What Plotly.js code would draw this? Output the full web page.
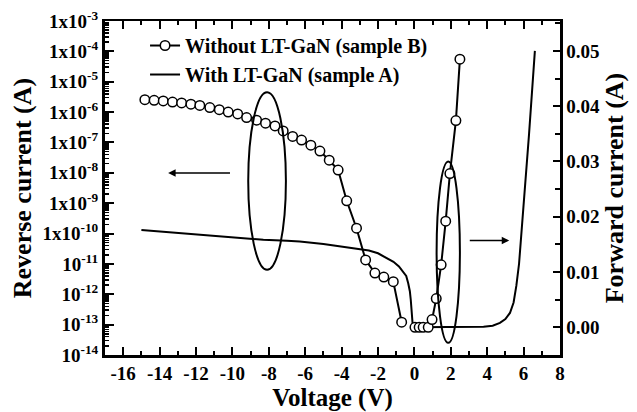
<!DOCTYPE html>
<html><head><meta charset="utf-8">
<script src="https://cdn.plot.ly/plotly-3.0.1.min.js"></script>
<style>html,body{margin:0;padding:0;background:#fff}#chart{width:637px;height:412px}</style>
</head><body><div id="chart"></div>
<script>
// Sample B (without LT-GaN): reverse branch (left log axis), forward branch (right linear axis)
const sampleB_revV = [-14.81,-14.30,-13.80,-13.29,-12.79,-12.28,-11.79,-11.24,-10.72,-10.23,-9.71,-9.22,-8.67,-8.18,-7.66,-7.21,-6.69,-6.20,-5.69,-5.19,-4.68,-4.19,-3.72,-3.18,-2.68,-2.17,-1.68,-1.16,-0.70];
const sampleB_revI = [2.57e-6,2.45e-6,2.34e-6,2.14e-6,2.0e-6,1.82e-6,1.66e-6,1.41e-6,1.2e-6,1.0e-6,8.7e-7,6.6e-7,5.4e-7,4.3e-7,3.5e-7,2.4e-7,1.58e-7,1.2e-7,8.1e-8,5.2e-8,2.6e-8,1.23e-8,1.2e-9,1.5e-10,1.35e-11,5.0e-12,3.7e-12,2.6e-12,1.2e-13];
const sampleB_fwdV = [0.03,0.26,0.48,0.76,0.97,1.2,1.47,1.72,1.95,2.28,2.5];
const sampleB_fwdI = [0,0,0,0,0.0014,0.0052,0.0113,0.0192,0.0278,0.0374,0.0485];
// Sample A (with LT-GaN)
const sampleA_revV = [-15,-13,-11,-9,-8.3,-7,-6.3,-5,-4,-3,-2.5,-2,-1.5,-1.15,-0.85,-0.62,-0.45,-0.34,-0.25,-0.2,-0.15,-0.1];
const sampleA_revI = [1.32e-10,1.05e-10,8.5e-11,6.8e-11,6.2e-11,5.8e-11,5.5e-11,4.5e-11,3.7e-11,3.2e-11,2.75e-11,2.24e-11,1.58e-11,1.17e-11,8.3e-12,5.6e-12,4.0e-12,2.3e-12,1.26e-12,6.6e-13,2.8e-13,1.1e-13];
const sampleA_fwdV = [0,1,2,3,3.8,4.3,4.7,5.0,5.25,5.45,5.6,5.75,6.0,6.3,6.62];
const sampleA_fwdI = [0,0,0,0,0.0001,0.0003,0.0008,0.0015,0.0026,0.0045,0.0075,0.0115,0.022,0.035,0.050];
// Tick labels
const xTickVals = [-16,-14,-12,-10,-8,-6,-4,-2,0,2,4,6,8];
const xTickText = ['-16','-14','-12','-10','-8','-6','-4','-2','0','2','4','6','8'];
const logTickVals = [1e-14,1e-13,1e-12,1e-11,1e-10,1e-9,1e-8,1e-7,1e-6,1e-5,1e-4,1e-3];
const logTickText = ['10<sup>-14</sup>','10<sup>-13</sup>','10<sup>-12</sup>','10<sup>-11</sup>','1x10<sup>-10</sup>','1x10<sup>-9</sup>','1x10<sup>-8</sup>','1x10<sup>-7</sup>','1x10<sup>-6</sup>','1x10<sup>-5</sup>','1x10<sup>-4</sup>','1x10<sup>-3</sup>'];
const fwdTickVals = [0,0.01,0.02,0.03,0.04,0.05];
const fwdTickText = ['0.00','0.01','0.02','0.03','0.04','0.05'];
const nameB = 'Without LT-GaN (sample B)';
const nameA = 'With LT-GaN (sample A)';

const bold = s => '<b>' + s + '</b>';

// minor tick positions for the log axis (2..9 x 10^n)
const minorLog = [];
for (let e = -14; e < -3; e++) for (let k = 2; k <= 9; k++) minorLog.push(k * Math.pow(10, e));

const FONT = '"Liberation Serif", "Times New Roman", serif';
const lineStyle = {color:'black', width:2};
const markerStyle = {symbol:'circle', size:9.5, color:'white', line:{color:'black', width:1.5}};

const traces = [
  {x:[], y:[], yaxis:'y3', mode:'lines', showlegend:false, hoverinfo:'skip'},
  {x:sampleA_revV, y:sampleA_revI, yaxis:'y', mode:'lines', line:lineStyle, name:bold(nameA), legendrank:2},
  {x:sampleA_fwdV, y:sampleA_fwdI, yaxis:'y2', mode:'lines', line:lineStyle, name:bold(nameA), showlegend:false},
  {x:sampleB_revV, y:sampleB_revI, yaxis:'y', mode:'lines+markers', line:lineStyle, marker:markerStyle, name:bold(nameB), legendrank:1},
  {x:sampleB_fwdV, y:sampleB_fwdI, yaxis:'y2', mode:'lines+markers', line:lineStyle, marker:markerStyle, name:bold(nameB), showlegend:false}
];

const axisCommon = {showline:true, linecolor:'black', showgrid:false, zeroline:false, ticks:'inside', tickcolor:'black', tickfont:{family:FONT, size:19, color:'black'}};

const layout = {
  width:637, height:412,
  margin:{l:105, r:77, t:21, b:57, pad:0},
  paper_bgcolor:'white', plot_bgcolor:'white',
  font:{family:FONT, color:'black', size:19},
  showlegend:true,
  legend:{x:0.088, y:0.985, xanchor:'left', yanchor:'top', bgcolor:'rgba(0,0,0,0)', font:{family:FONT, size:20, color:'black'}, tracegroupgap:0},
  xaxis:Object.assign({}, axisCommon, {
    range:[-17,8], tickmode:'array', tickvals:xTickVals, ticktext:xTickText.map(bold), ticklen:8, tickwidth:2, linewidth:2.5, mirror:'ticks',
    minor:{ticks:'inside', ticklen:4, tickwidth:2, tickcolor:'black', tickmode:'linear', dtick:1, tick0:0, showgrid:false},
    title:{text:'<b>Voltage (V)</b>', font:{family:FONT, size:25, color:'black'}, standoff:6}
  }),
  yaxis:Object.assign({}, axisCommon, {
    type:'log', range:[-14,-3], tickmode:'array', tickvals:logTickVals, ticktext:logTickText.map(bold), ticklen:9, tickwidth:2, linewidth:3,
    title:{text:'<b>Reverse current (A)</b>', font:{family:FONT, size:26, color:'black'}, standoff:4}
  }),
  yaxis3:{
    type:'log', range:[-14,-3], overlaying:'y', side:'left', anchor:'x', tickmode:'array', tickvals:minorLog,
    ticks:'inside', ticklen:4, tickwidth:1.5, tickcolor:'black', showticklabels:false, showline:false, showgrid:false, zeroline:false
  },
  yaxis2:Object.assign({}, axisCommon, {
    overlaying:'y', side:'right', range:[-0.005,0.0554], tickmode:'array', tickvals:fwdTickVals, ticktext:fwdTickText.map(bold), ticklen:7, tickwidth:2, linewidth:2.5,
    minor:{ticks:'inside', ticklen:5, tickwidth:2, tickcolor:'black', tickmode:'linear', dtick:0.005, tick0:0, showgrid:false},
    title:{text:'<b>Forward current (A)</b>', font:{family:FONT, size:26, color:'black'}, standoff:6}
  }),
  shapes:[
    {type:'circle', xref:'x', yref:'y2', x0:-9.13, x1:-7.06, y0:0.0104, y1:0.0425, line:{color:'black', width:2}},
    {type:'circle', xref:'x', yref:'y2', x0:1.22, x1:2.5, y0:-0.0028, y1:0.030, line:{color:'black', width:2}}
  ],
  annotations:[
    {xref:'x', yref:'y2', axref:'x', ayref:'y2', x:-13.53, y:0.0279, ax:-10.05, ay:0.0279, text:'', showarrow:true, arrowhead:2, arrowsize:1, arrowwidth:1.5, arrowcolor:'black'},
    {xref:'x', yref:'y2', axref:'x', ayref:'y2', x:5.21, y:0.0157, ax:2.96, ay:0.0157, text:'', showarrow:true, arrowhead:2, arrowsize:1, arrowwidth:1.5, arrowcolor:'black'}
  ]
};

Plotly.newPlot('chart', traces, layout, {displayModeBar:false, staticPlot:true});
</script>
</body></html>
